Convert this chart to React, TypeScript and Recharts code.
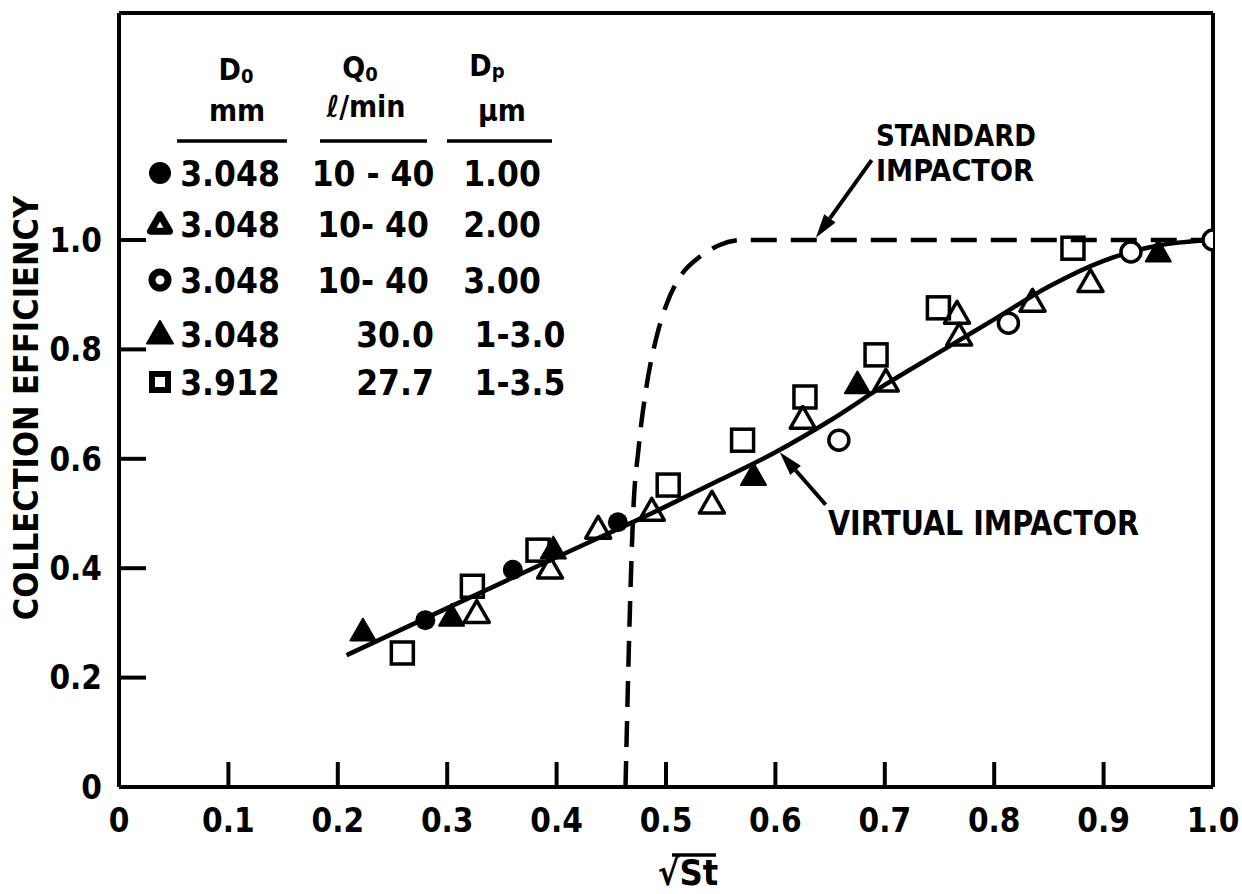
import React from 'react';
import { ComposedChart, Line, Scatter, XAxis, YAxis, ReferenceLine } from 'recharts';

const FONT = "'DejaVu Sans Condensed', 'Liberation Sans Narrow', 'DejaVu Sans', sans-serif";

const xTicks = [0, 0.1, 0.2, 0.3, 0.4, 0.5, 0.6, 0.7, 0.8, 0.9, 1.0];
const xTickLabels = ['0', '0.1', '0.2', '0.3', '0.4', '0.5', '0.6', '0.7', '0.8', '0.9', '1.0'];
const yTicks = [0, 0.2, 0.4, 0.6, 0.8, 1.0];
const yTickLabels = ['0', '0.2', '0.4', '0.6', '0.8', '1.0'];

// fitted curves
const virtualX = [0.208, 0.3, 0.4, 0.5, 0.55, 0.6, 0.65, 0.7, 0.75, 0.8, 0.85, 0.9, 0.95, 1.0];
const virtualY = [0.241, 0.327, 0.42, 0.513, 0.562, 0.612, 0.67, 0.735, 0.795, 0.855, 0.915, 0.962, 0.99, 1.0];
const standardX = [0.463, 0.466, 0.47, 0.475, 0.482, 0.491, 0.5, 0.512, 0.53, 0.548, 0.57, 1.0];
const standardY = [0, 0.25, 0.5, 0.62, 0.73, 0.82, 0.88, 0.93, 0.968, 0.99, 1.0, 1.0];

// measured points, one array pair per legend row
const dp1X = [0.28, 0.36, 0.456];
const dp1Y = [0.305, 0.397, 0.484];
const dp2X = [0.327, 0.394, 0.438, 0.487, 0.542, 0.625, 0.701, 0.766, 0.768, 0.835, 0.888];
const dp2Y = [0.316, 0.397, 0.47, 0.503, 0.516, 0.671, 0.739, 0.863, 0.823, 0.885, 0.921];
const dp3X = [0.658, 0.813, 0.925, 1.0];
const dp3Y = [0.634, 0.848, 0.978, 1.0];
const mixX = [0.223, 0.304, 0.397, 0.58, 0.675, 0.95];
const mixY = [0.283, 0.31, 0.433, 0.567, 0.735, 0.976];
const sqX = [0.259, 0.323, 0.383, 0.502, 0.57, 0.627, 0.692, 0.749, 0.872];
const sqY = [0.245, 0.367, 0.433, 0.552, 0.634, 0.713, 0.79, 0.876, 0.985];

// annotation arrows: [tail, head] in data units
const stdArrow = [[0.688, 1.146], [0.637, 1.004]];
const virtArrow = [[0.646, 0.516], [0.604, 0.612]];

// legend table
const legendD0 = ['3.048', '3.048', '3.048', '3.048', '3.912'];
const legendQ0 = ['10 - 40', '10- 40', '10- 40', '30.0', '27.7'];
const legendDp = ['1.00', '2.00', '3.00', '1-3.0', '1-3.5'];

const toPoints = (xs: number[], ys: number[]) => xs.map((x, i) => ({ x, y: ys[i] }));

const triPts = (cx: number, cy: number, s: number) => {
  const h = s * 0.87;
  return `${cx},${cy - h * 0.62} ${cx - s / 2},${cy + h * 0.38} ${cx + s / 2},${cy + h * 0.38}`;
};

const FilledCircle = (p: any) => <circle cx={p.cx} cy={p.cy} r={10} fill="#000" />;
const OpenCircle = (p: any) => <circle cx={p.cx} cy={p.cy} r={10} fill="#fff" stroke="#000" strokeWidth={3.5} />;
const OpenTri = (p: any) => (
  <polygon points={triPts(p.cx, p.cy, 25)} fill="none" stroke="#000" strokeWidth={3.5} strokeLinejoin="round" />
);
const FilledTri = (p: any) => (
  <polygon points={triPts(p.cx, p.cy, 25)} fill="#000" stroke="#000" strokeWidth={2} strokeLinejoin="round" />
);
const OpenSquare = (p: any) => (
  <rect x={p.cx - 11} y={p.cy - 11} width={22} height={22} fill="none" stroke="#000" strokeWidth={3.5} />
);

const Arrow = (p: any) => {
  const { x1, y1, x2, y2 } = p;
  const a = Math.atan2(y2 - y1, x2 - x1);
  const len = 24;
  const w = 7;
  const bx = x2 - len * Math.cos(a);
  const by = y2 - len * Math.sin(a);
  const nx = -Math.sin(a) * w;
  const ny = Math.cos(a) * w;
  return (
    <g>
      <line x1={x1} y1={y1} x2={bx} y2={by} stroke="#000" strokeWidth={4} />
      <polygon points={`${x2},${y2} ${bx + nx},${by + ny} ${bx - nx},${by - ny}`} fill="#000" />
    </g>
  );
};

const tickStyle = { fontSize: 33, fill: '#000', fontFamily: FONT, fontWeight: 'bold' as const };
const textStyle = { fontFamily: FONT, fontWeight: 'bold' as const, fill: '#000' };

const legendRowY = [173, 224, 280, 334, 382];

const LegendMarker = ({ i, cx, cy }: { i: number; cx: number; cy: number }) => {
  if (i === 0) return <circle cx={cx} cy={cy} r={11} fill="#000" />;
  if (i === 1) return <polygon points={triPts(cx, cy + 1, 19)} fill="#fff" stroke="#000" strokeWidth={7} strokeLinejoin="round" />;
  if (i === 2) return <circle cx={cx} cy={cy} r={8} fill="none" stroke="#000" strokeWidth={7} />;
  if (i === 3) return <polygon points={triPts(cx, cy + 1, 26)} fill="#000" stroke="#000" strokeWidth={2} strokeLinejoin="round" />;
  return <rect x={cx - 8} y={cy - 8} width={16} height={16} fill="none" stroke="#000" strokeWidth={6} />;
};

export default function App() {
  return (
    <div style={{ position: 'absolute', left: 0, top: 0, width: 1242, height: 894, background: '#fff' }}>
      <ComposedChart width={1242} height={894} margin={{ top: 12, right: 28, bottom: 0, left: 0 }}>
        <XAxis
          xAxisId="b"
          type="number"
          dataKey="x"
          domain={[0, 1]}
          ticks={xTicks}
          tickFormatter={(v: number, i: number) => xTickLabels[i]}
          height={107}
          tickSize={-25}
          tickMargin={47}
          tick={tickStyle}
          axisLine={{ stroke: '#000', strokeWidth: 4 }}
          tickLine={{ stroke: '#000', strokeWidth: 4 }}
          allowDataOverflow
        />
        <XAxis
          xAxisId="t"
          orientation="top"
          type="number"
          dataKey="x"
          domain={[0, 1]}
          ticks={xTicks}
          height={1}
          tickSize={-25}
          tick={false}
          axisLine={{ stroke: '#000', strokeWidth: 4 }}
          tickLine={{ stroke: '#000', strokeWidth: 4 }}
          allowDataOverflow
        />
        <YAxis
          yAxisId="l"
          type="number"
          dataKey="y"
          domain={[0, 1.415]}
          ticks={yTicks}
          tickFormatter={(v: number, i: number) => yTickLabels[i]}
          width={119}
          tickSize={-27}
          tickMargin={44}
          tick={tickStyle}
          axisLine={{ stroke: '#000', strokeWidth: 4 }}
          tickLine={{ stroke: '#000', strokeWidth: 4 }}
          allowDataOverflow
        />
        <YAxis
          yAxisId="r"
          orientation="right"
          type="number"
          dataKey="y"
          domain={[0, 1.415]}
          ticks={yTicks}
          width={1}
          tickSize={-27}
          tick={false}
          axisLine={{ stroke: '#000', strokeWidth: 4 }}
          tickLine={{ stroke: '#000', strokeWidth: 4 }}
          allowDataOverflow
        />
        <Line
          xAxisId="b"
          yAxisId="l"
          data={toPoints(standardX, standardY)}
          dataKey="y"
          type="monotone"
          stroke="#000"
          strokeWidth={4.5}
          strokeDasharray="26 14"
          dot={false}
          isAnimationActive={false}
        />
        <Line
          xAxisId="b"
          yAxisId="l"
          data={toPoints(virtualX, virtualY)}
          dataKey="y"
          type="monotone"
          stroke="#000"
          strokeWidth={4.5}
          dot={false}
          isAnimationActive={false}
        />
        <ReferenceLine
          xAxisId="b"
          yAxisId="l"
          segment={[{ x: stdArrow[0][0], y: stdArrow[0][1] }, { x: stdArrow[1][0], y: stdArrow[1][1] }]}
          shape={Arrow}
        />
        <ReferenceLine
          xAxisId="b"
          yAxisId="l"
          segment={[{ x: virtArrow[0][0], y: virtArrow[0][1] }, { x: virtArrow[1][0], y: virtArrow[1][1] }]}
          shape={Arrow}
        />
        <Scatter xAxisId="b" yAxisId="l" data={toPoints(sqX, sqY)} shape={OpenSquare} isAnimationActive={false} />
        <Scatter xAxisId="b" yAxisId="l" data={toPoints(dp2X, dp2Y)} shape={OpenTri} isAnimationActive={false} />
        <Scatter xAxisId="b" yAxisId="l" data={toPoints(dp3X, dp3Y)} shape={OpenCircle} isAnimationActive={false} />
        <Scatter xAxisId="b" yAxisId="l" data={toPoints(mixX, mixY)} shape={FilledTri} isAnimationActive={false} />
        <Scatter xAxisId="b" yAxisId="l" data={toPoints(dp1X, dp1Y)} shape={FilledCircle} isAnimationActive={false} />
      </ComposedChart>

      <svg
        width={1242}
        height={894}
        style={{ position: 'absolute', left: 0, top: 0, pointerEvents: 'none' }}
      >
        {/* legend table */}
        <g>
          <text x={236} y={80} fontSize={30} textAnchor="middle" style={textStyle}>
            D<tspan fontSize={20} dy={3}>0</tspan>
          </text>
          <text x={237} y={121} fontSize={30} textAnchor="middle" style={textStyle}>mm</text>
          <text x={360} y={78} fontSize={30} textAnchor="middle" style={textStyle}>
            Q<tspan fontSize={20} dy={3}>0</tspan>
          </text>
          <text x={366} y={117} fontSize={30} textAnchor="middle" style={textStyle}>
            <tspan fontStyle="italic">ℓ</tspan>/min
          </text>
          <text x={487} y={76} fontSize={30} textAnchor="middle" style={textStyle}>
            D<tspan fontSize={20} dy={2}>p</tspan>
          </text>
          <text x={502} y={121} fontSize={30} textAnchor="middle" style={textStyle}>μm</text>
          <line x1={177} y1={141} x2={287} y2={141} stroke="#000" strokeWidth={3.5} />
          <line x1={320} y1={141} x2={427} y2={141} stroke="#000" strokeWidth={3.5} />
          <line x1={447} y1={141} x2={552} y2={141} stroke="#000" strokeWidth={3.5} />
          {legendD0.map((d, i) => (
            <g key={i}>
              <LegendMarker i={i} cx={160} cy={legendRowY[i]} />
              <text x={230} y={legendRowY[i] + 13} fontSize={35} textAnchor="middle" style={textStyle}>{d}</text>
              <text x={i < 3 ? 373 : 395} y={legendRowY[i] + 13} fontSize={35} textAnchor="middle" style={textStyle}>
                {legendQ0[i]}
              </text>
              <text x={i < 3 ? 502 : 520} y={legendRowY[i] + 13} fontSize={35} textAnchor="middle" style={textStyle}>
                {legendDp[i]}
              </text>
            </g>
          ))}
        </g>

        {/* annotations */}
        <text x={876} y={146} fontSize={30} textLength={160} lengthAdjust="spacingAndGlyphs" style={textStyle}>
          STANDARD
        </text>
        <text x={876} y={181} fontSize={30} textLength={158} lengthAdjust="spacingAndGlyphs" style={textStyle}>
          IMPACTOR
        </text>
        <text x={828} y={535} fontSize={33} textLength={311} lengthAdjust="spacingAndGlyphs" style={textStyle}>
          VIRTUAL  IMPACTOR
        </text>

        {/* axis titles */}
        <text
          x={0}
          y={0}
          fontSize={34}
          textAnchor="middle"
          transform="translate(38,408) rotate(-90)"
          style={textStyle}
        >
          COLLECTION EFFICIENCY
        </text>
        <text x={688} y={885} fontSize={36} textAnchor="middle" style={textStyle}>
          √St
        </text>
        <line x1={672} y1={855} x2={716} y2={855} stroke="#000" strokeWidth={3.5} />
      </svg>
    </div>
  );
}
